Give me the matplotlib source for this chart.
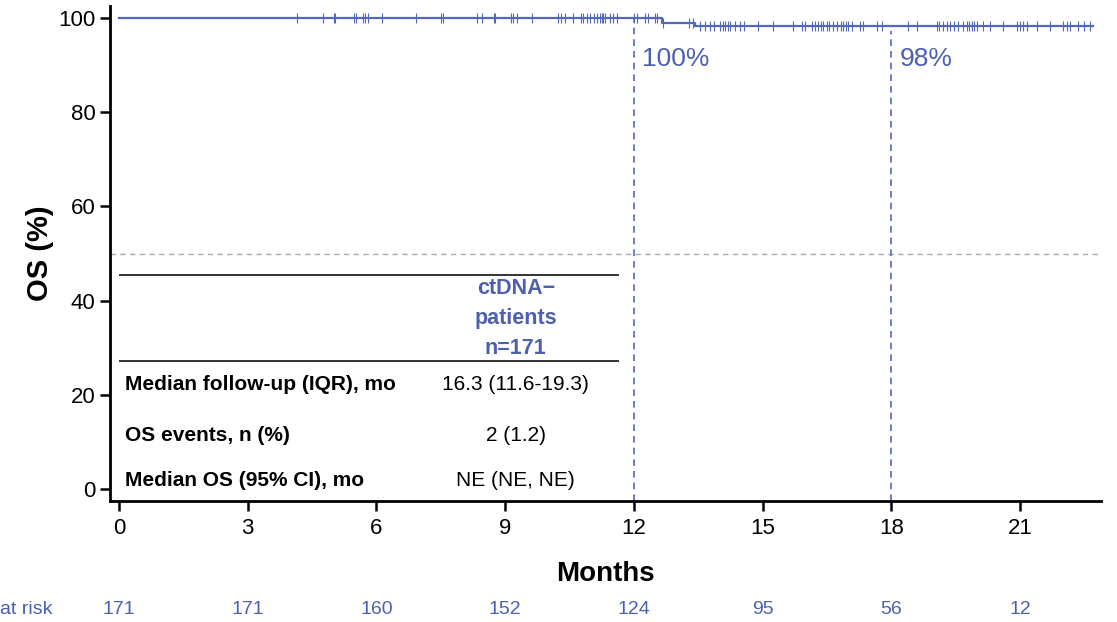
import numpy as np
import matplotlib
matplotlib.use("Agg")
import matplotlib.pyplot as plt

plt.rcParams['font.family'] = ['Liberation Sans', 'DejaVu Sans']

# ---- data ----
km_times = [0.0, 12.65, 13.43, 22.7]
km_surv = [100.0, 99.0, 98.2, 98.2]
censor_times = [4.16, 4.75, 5.00, 5.03, 5.48, 5.52, 5.69, 5.73, 5.81, 6.14, 6.92,
                7.50, 7.55, 8.34, 8.45, 8.73, 8.76, 9.13, 9.19, 9.28, 9.62, 10.24,
                10.30, 10.40, 10.59, 10.76, 10.82, 10.90, 10.98, 11.06, 11.14, 11.21,
                11.25, 11.29, 11.33, 11.45, 11.52, 11.60, 12.01, 12.07, 12.26, 12.34,
                12.49, 12.55, 12.69, 13.29, 13.37, 13.54, 13.66, 13.78, 13.87, 14.01,
                14.07, 14.13, 14.19, 14.24, 14.36, 14.48, 14.57, 14.90, 15.25, 15.70,
                15.91, 15.99, 16.15, 16.22, 16.30, 16.36, 16.42, 16.50, 16.56, 16.65,
                16.74, 16.82, 16.88, 16.95, 17.00, 17.08, 17.27, 17.35, 17.66, 17.78,
                18.40, 18.59, 19.06, 19.12, 19.20, 19.29, 19.37, 19.46, 19.56, 19.68,
                19.76, 19.82, 19.88, 19.93, 19.99, 20.15, 20.30, 20.61, 20.93, 21.00,
                21.08, 21.16, 21.39, 21.70, 22.01, 22.09, 22.17, 22.36, 22.49, 22.63]
landmark_times = [12, 18]
landmark_labels = ["100%", "98%"]
landmark_tops = [100.0, 97.3]
xticks = [0, 3, 6, 9, 12, 15, 18, 21]
at_risk = [171, 171, 160, 152, 124, 95, 56, 12]
row_labels = ["Median follow-up (IQR), mo", "OS events, n (%)", "Median OS (95% CI), mo"]
row_values = ["16.3 (11.6-19.3)", "2 (1.2)", "NE (NE, NE)"]
header = "ctDNA\u2212\npatients\nn=171"

BLUE = "#5468b8"
TXTBLUE = "#4d5fb0"

fig = plt.figure(figsize=(11.17, 6.22), dpi=100)
ax = fig.add_axes([0.0985, 0.1945, 0.8872, 0.7955])
ax.set_xlim(-0.21, 22.89)
ax.set_ylim(-2.55, 102.5)

# KM curve
ax.step(km_times, km_surv, where='post', color=BLUE, lw=1.6, zorder=3)
ct = np.array(censor_times)
idx = np.searchsorted(np.array(km_times), ct, side='right') - 1
cy = np.array(km_surv)[idx]
ax.plot(ct, cy, linestyle='none', marker='|', markersize=7, mew=0.8, color=BLUE, zorder=3)

# reference lines
ax.axhline(50, color='#aaaaaa', ls=(0, (4, 3)), lw=1.0, zorder=1)
for t, lab, top in zip(landmark_times, landmark_labels, landmark_tops):
    ax.plot([t, t], [-2.55, top], color=BLUE, ls=(0, (4, 3)), lw=1.2, zorder=2)
    ax.text(t + 0.19, 91.3, lab, color=TXTBLUE, fontsize=19, ha='left', va='center')

# table
ax.plot([0.02, 11.63], [45.4, 45.4], color='#333333', lw=1.4)
ax.plot([0.02, 11.63], [27.2, 27.2], color='#333333', lw=1.4)
ax.text(9.25, 36.2, header, color=TXTBLUE, fontsize=15.5, fontweight='bold',
        ha='center', va='center', linespacing=1.55)
row_y = [22.1, 11.3, 1.9]
for lab, val, y in zip(row_labels, row_values, row_y):
    ax.text(0.14, y, lab, fontsize=15, fontweight='bold', ha='left', va='center', color='black')
    ax.text(9.25, y, val, fontsize=15, ha='center', va='center', color='black')

# axes styling
for s in ['top', 'right']:
    ax.spines[s].set_visible(False)
for s in ['left', 'bottom']:
    ax.spines[s].set_linewidth(2.0)
ax.set_xticks(xticks)
ax.set_yticks([0, 20, 40, 60, 80, 100])
ax.tick_params(axis='both', width=1.8, length=7, labelsize=16, direction='out')
ax.tick_params(axis='x', pad=5)
ax.set_xlabel("Months", fontsize=20, fontweight='bold', labelpad=16)
ax.set_ylabel("OS (%)", fontsize=21, fontweight='bold', labelpad=3)

# at risk row
trans = matplotlib.transforms.blended_transform_factory(ax.transData, fig.transFigure)
y_risk = 1 - 610 / 622
for t, n in zip(xticks, at_risk):
    fig.text(t, y_risk, str(n), transform=trans, color=TXTBLUE, fontsize=14,
             ha='center', va='center')
fig.text(0.0, y_risk, "at risk", color=TXTBLUE, fontsize=14, ha='left', va='center')

fig.savefig("out.png", dpi=100)
